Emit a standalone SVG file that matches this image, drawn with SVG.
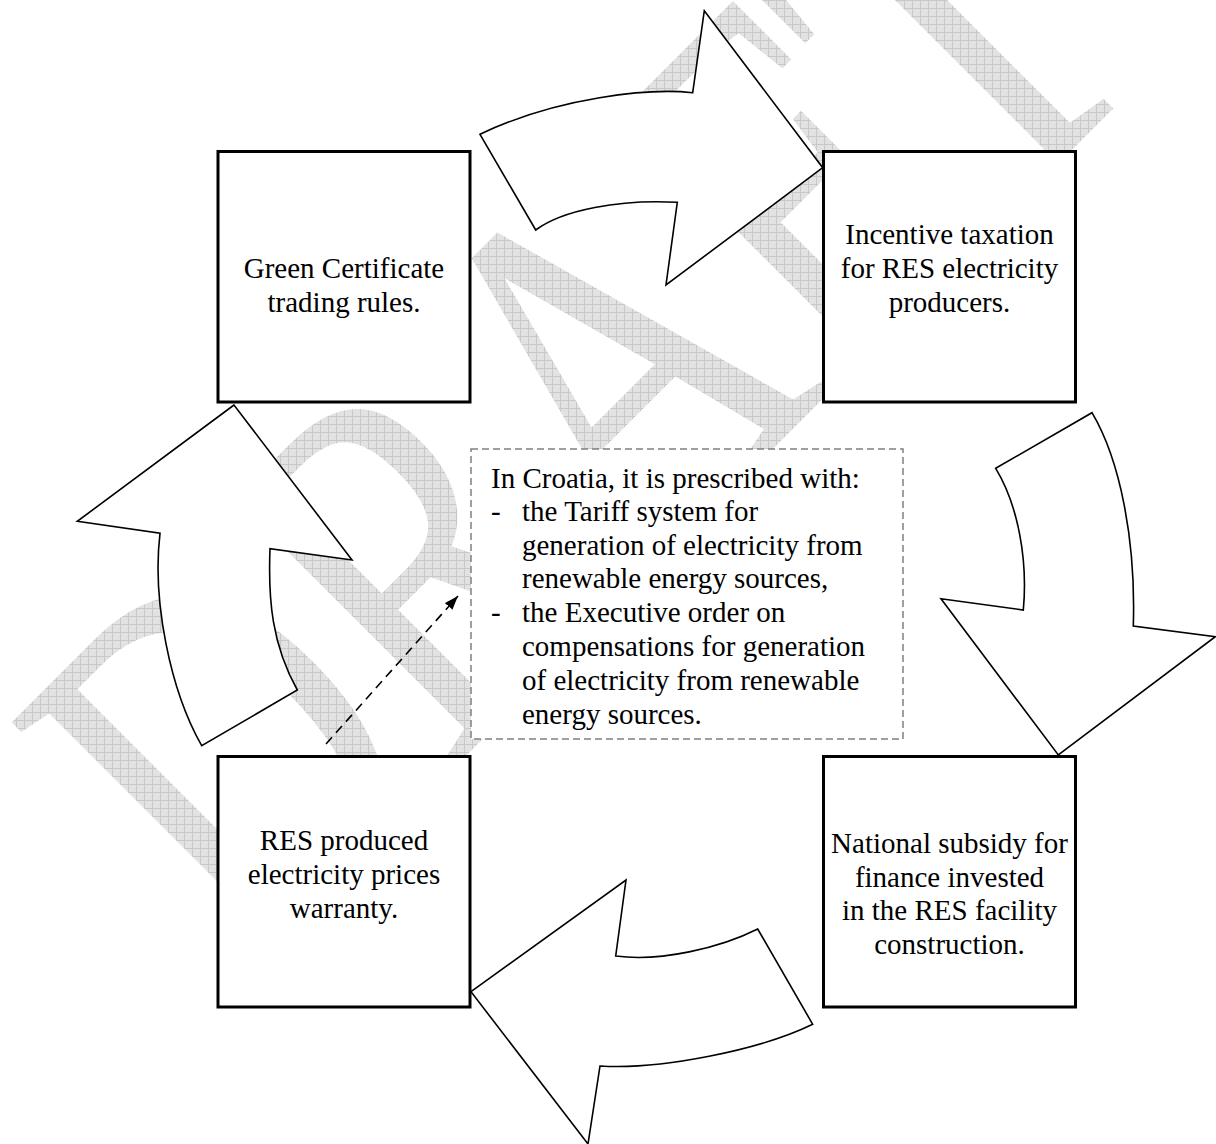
<svg xmlns="http://www.w3.org/2000/svg" width="1216" height="1144" viewBox="0 0 1216 1144">
<style>
.box{fill:#fff;stroke:#000;stroke-width:3}
.blk{fill:#fff;stroke:#000;stroke-width:1.6;stroke-linejoin:miter}
.lbl{font-family:"Liberation Serif","Times New Roman",serif;font-size:29px;fill:#000;text-anchor:middle}
.note{font-family:"Liberation Serif","Times New Roman",serif;font-size:29px;fill:#000}
.dash{fill:#fff;stroke:#808080;stroke-width:1.5;stroke-dasharray:7 4}
.link{fill:none;stroke:#000;stroke-width:1.6;stroke-dasharray:9 6}
</style>
<defs>
<pattern id="wmgrid" width="8" height="8" patternUnits="userSpaceOnUse" patternTransform="scale(1,0.744) rotate(45) translate(-247.5,-974.3)">
<rect width="8" height="8" fill="#e2e2e2"/>
<path d="M0,0.5H8M0.5,0V8" stroke="#c8c8c8" stroke-width="1"/>
</pattern>
<marker id="ah" viewBox="0 0 14 10" refX="14" refY="5" markerWidth="14" markerHeight="10" markerUnits="userSpaceOnUse" orient="auto">
<path d="M0,0 L14,5 L0,10 Z" fill="#000"/>
</marker>
</defs>
<rect width="1216" height="1144" fill="#fff"/>
<g id="watermark">
<text transform="translate(247.5,974.3) rotate(-45) scale(1,1.344)" font-family="Liberation Serif, Times New Roman, serif" font-size="392" fill="url(#wmgrid)">DRAFT</text>
</g>
<g id="connectors">
<path class="blk" d="M480,134.3 L535.7,230 C562,210 620,199 677.3,202.3 L666,285 L822.7,167.7 L704.3,10.7 L692.7,92.7 C650,88 558,97 480,134.3 Z"/>
<path class="blk" d="M995.7,468.3 L1092,412.7 C1120,460 1136,540 1133.3,626 L1215.3,636.7 L1058.3,755 L941,598.7 L1023.3,610 C1028,560 1018,505 995.7,468.3 Z"/>
<path class="blk" d="M757.7,929 L812.7,1024.3 C760,1050 660,1070 600,1066 L588,1144 L471,991.7 L626,880 L615.7,956 C660,962 720,948 757.7,929 Z"/>
<path class="blk" d="M234,405 L77.3,521.3 L160,533.3 C152,600 170,690 201.7,745.7 L297.3,690 C272,645 268,600 270,548.7 L352,560 Z"/>
<line class="link" x1="326" y1="744" x2="458" y2="596" marker-end="url(#ah)"/>
</g>
<g id="node-green">
<rect class="box" x="218" y="151.5" width="252" height="250.5"/>
<text class="lbl" x="344" y="278">Green Certificate</text>
<text class="lbl" x="344" y="312">trading rules.</text>
</g>
<g id="node-incentive">
<rect class="box" x="823.5" y="151.5" width="252" height="250.5"/>
<text class="lbl" x="949.5" y="244">Incentive taxation</text>
<text class="lbl" x="949.5" y="278">for RES electricity</text>
<text class="lbl" x="949.5" y="312">producers.</text>
</g>
<g id="node-subsidy">
<rect class="box" x="823.5" y="756.5" width="252" height="250.5"/>
<text class="lbl" x="949.5" y="852.5">National subsidy for</text>
<text class="lbl" x="949.5" y="886.5">finance invested</text>
<text class="lbl" x="949.5" y="920">in the RES facility</text>
<text class="lbl" x="949.5" y="954">construction.</text>
</g>
<g id="node-warranty">
<rect class="box" x="218" y="756.5" width="252" height="250.5"/>
<text class="lbl" x="344" y="849.5">RES produced</text>
<text class="lbl" x="344" y="883.5">electricity prices</text>
<text class="lbl" x="344" y="917.5">warranty.</text>
</g>
<g id="node-croatia">
<rect class="dash" x="471" y="449" width="432" height="290"/>
<text class="note" x="491" y="487.5">In Croatia, it is prescribed with:</text>
<text class="note" x="491" y="521">-</text>
<text class="note" x="522" y="521">the Tariff system for</text>
<text class="note" x="522" y="554.5">generation of electricity from</text>
<text class="note" x="522" y="588">renewable energy sources,</text>
<text class="note" x="491" y="621.5">-</text>
<text class="note" x="522" y="621.5">the Executive order on</text>
<text class="note" x="522" y="655.5">compensations for generation</text>
<text class="note" x="522" y="689.5">of electricity from renewable</text>
<text class="note" x="522" y="723.5">energy sources.</text>
</g>
</svg>
